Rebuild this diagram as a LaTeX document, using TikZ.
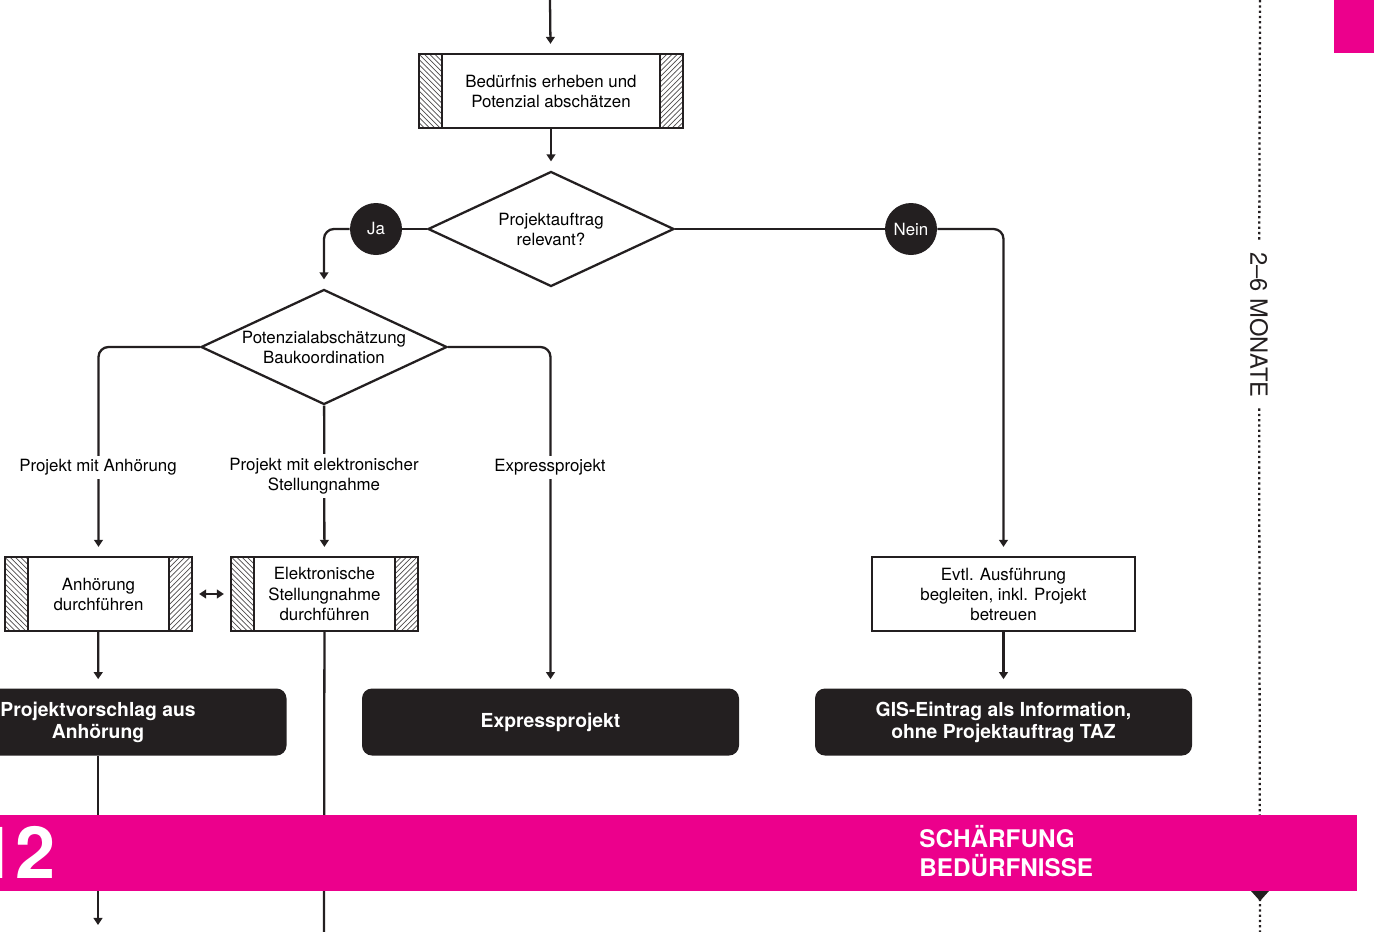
\documentclass[tikz,border=0pt]{standalone}
\usepackage{fontspec}
\setmainfont{TeX Gyre Heros}
\definecolor{flowblack}{RGB}{35, 31, 32}
\definecolor{barmagenta}{RGB}{236, 0, 140}
\usetikzlibrary{shapes.geometric, arrows.meta, patterns}
\newcommand{\flowfont}{\fontsize{9.6}{11.4}\selectfont}
\newcommand{\resultfont}{\fontsize{11}{12.5}\selectfont\bfseries}
\newcommand{\barfont}{\fontsize{13.8}{16.4}\selectfont\bfseries}
\tikzset{
    taskbox/.style={rectangle, draw=flowblack, line width=1.3pt, fill=white, align=center,
                    font=\flowfont, minimum height=14.8mm, inner sep=0pt,
                    path picture={
                        \fill[pattern=north west lines, pattern color=flowblack!80]
                            (path picture bounding box.north west) rectangle ([xshift=4.6mm]path picture bounding box.south west);
                        \fill[pattern=north east lines, pattern color=flowblack!80]
                            (path picture bounding box.north east) rectangle ([xshift=-4.6mm]path picture bounding box.south east);
                        \draw[flowblack, line width=0.6pt]
                            ([xshift=4.6mm]path picture bounding box.north west) -- ([xshift=4.6mm]path picture bounding box.south west);
                        \draw[flowblack, line width=0.6pt]
                            ([xshift=-4.6mm]path picture bounding box.north east) -- ([xshift=-4.6mm]path picture bounding box.south east);
                    }},
    plainbox/.style={rectangle, draw=flowblack, line width=1.3pt, fill=white, align=center,
                     font=\flowfont, minimum height=14.8mm, inner sep=0pt},
    decision/.style={diamond, draw=flowblack, line width=1.3pt, aspect=2.14, minimum width=49.2mm,
                     minimum height=23mm, inner sep=0pt, align=center, font=\flowfont},
    answer/.style={circle, fill=flowblack, text=white, minimum size=10.4mm, inner sep=0pt, font=\flowfont},
    resultbox/.style={rectangle, rounded corners=2mm, fill=flowblack, text=white, minimum width=75.4mm,
                      minimum height=13.4mm, align=center, font=\resultfont},
    caselabel/.style={fill=white, align=center, font=\flowfont, inner sep=2pt},
    line/.style={line width=1.3pt, flowblack},
    arrow/.style={-{Triangle[length=4pt, width=5pt]}, line width=1.3pt, flowblack, shorten >=1.8mm},
    timeline/.style={flowblack, line width=1.3pt, dash pattern=on 1.3pt off 1.7pt},
}

\begin{document}
\begin{tikzpicture}[x=0.2mm, y=-0.2mm]
    \useasboundingbox (0, 0) rectangle (1374, 932);

    % Steps
    \coordinate (start) at (550, 0);
    \node[taskbox, minimum width=52.8mm] (need) at (551, 91) {Bedürfnis erheben und\\Potenzial abschätzen};
    \node[decision] (rel) at (551, 229) {Projektauftrag\\relevant?};
    \node[answer] (ja) at (376, 229) {Ja};
    \node[answer] (nein) at (911, 229) {Nein};
    \node[decision] (pot) at (324, 347) {Potenzialabschätzung\\Baukoordination};

    % Procedures
    \node[taskbox, minimum width=37.4mm] (anh) at (98.5, 594) {Anhörung\\durchführen};
    \node[taskbox, minimum width=37.4mm] (elek) at (324.5, 594) {Elektronische\\Stellungnahme\\durchführen};
    \node[plainbox, minimum width=52.6mm] (evtl) at (1003.5, 594) {Evtl. Ausführung\\begleiten, inkl. Projekt\\betreuen};

    % Results
    \node[resultbox] (vors) at (98, 722) {Projektvorschlag aus\\Anhörung};
    \node[resultbox] (expr) at (550.5, 722) {Expressprojekt};
    \node[resultbox] (gis) at (1003.5, 722) {GIS-Eintrag als Information,\\ohne Projektauftrag TAZ};
    \coordinate (vorsout) at (98, 934);
    \coordinate (elekout) at (324, 932);

    % Connectors
    \draw[arrow] (start) -- (need);
    \draw[arrow] (need) -- (rel);
    \draw[line] (rel.west) -- (ja);
    \draw[arrow, rounded corners=2mm] (ja) -| (pot);
    \draw[line] (rel.east) -- (nein);
    \draw[arrow, rounded corners=2mm] (nein) -| (evtl);
    \draw[arrow, rounded corners=2mm] (pot.west) -| (anh);
    \draw[arrow] (pot) -- (elek);
    \draw[arrow, rounded corners=2mm] (pot.east) -| (expr);
    \draw[line, {Triangle[length=4pt, width=5pt]}-{Triangle[length=4pt, width=5pt]},
          shorten <=1.2mm, shorten >=1.2mm] (anh) -- (elek);
    \draw[arrow] (anh) -- (vors);
    \draw[arrow] (evtl) -- (gis);
    \draw[arrow] (vors) -- (vorsout);
    \draw[line] (elek) -- (elekout);

    % Case labels
    \node[caselabel] (labanh) at (98, 467) {Projekt mit Anhörung};
    \node[caselabel] (labelek) at (324, 476) {Projekt mit elektronischer\\Stellungnahme};
    \node[caselabel] (labexpr) at (550, 467) {Expressprojekt};

    % Timeline
    \coordinate (tltop) at (1260, 0);
    \coordinate (tlbot) at (1260, 932);
    \node[rotate=-90, font=\fontsize{13.5}{16}\selectfont, text=flowblack, inner sep=6pt] (months) at (1259, 325) {2–6 MONATE};
    \draw[timeline] (tltop) -- (months);
    \draw[timeline] (months) -- (tlbot);

    % Phase bar
    \fill[barmagenta] (1334, 0) rectangle (1374, 53);
    \fill[barmagenta] (0, 815) rectangle (1357, 891);
    \node[anchor=east, text=white, inner sep=0pt, font=\fontsize{41}{41}\selectfont\bfseries] (phase) at (56, 852) {12};
    \node[anchor=west, text=white, align=left, inner sep=0pt, font=\barfont] (phasename) at (919, 851) {SCHÄRFUNG\\BEDÜRFNISSE};
    \fill[flowblack] (1251, 891) -- (1269, 891) -- (1260, 901) -- cycle;
\end{tikzpicture}
\end{document}
